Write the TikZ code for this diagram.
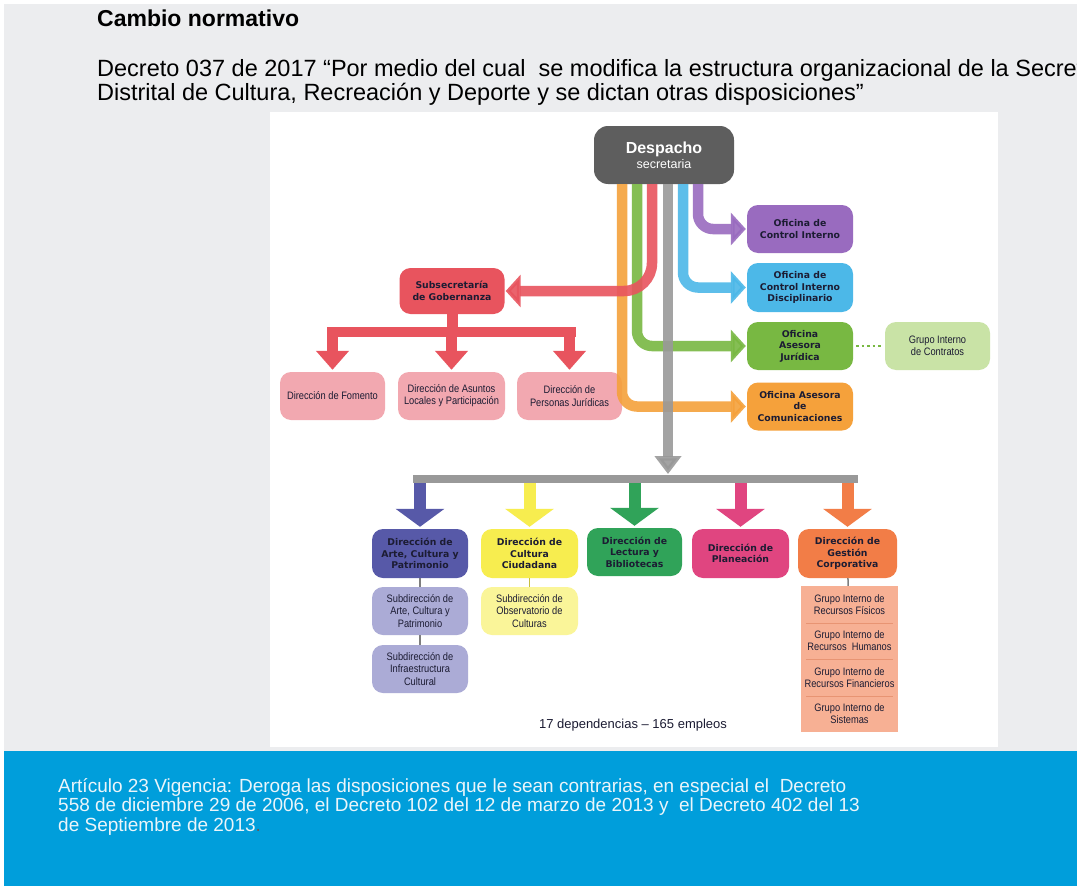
\documentclass[tikz,border=0pt]{standalone}
\usepackage{fontspec}
\setmainfont{Liberation Sans}
\newfontfamily\boxfont{DejaVu Sans}
\newfontfamily\narrowfont{Liberation Sans}[FakeStretch=0.86]
\usetikzlibrary{arrows.meta}
\newcommand{\boxtitle}{\boxfont\bfseries\fontsize{9.3}{11.5}\selectfont}
\newcommand{\boxsmall}{\narrowfont\fontsize{10.8}{12.2}\selectfont}
\definecolor{bggray}{rgb}{0.925, 0.929, 0.937}
\definecolor{despgray}{rgb}{0.37, 0.37, 0.37}
\definecolor{cgray}{rgb}{0.6, 0.6, 0.6}
\definecolor{cpurple}{rgb}{0.60, 0.42, 0.75}
\definecolor{cblue}{rgb}{0.30, 0.72, 0.91}
\definecolor{cgreen}{rgb}{0.47, 0.72, 0.26}
\definecolor{corange}{rgb}{0.96, 0.63, 0.23}
\definecolor{cred}{rgb}{0.91, 0.33, 0.37}
\definecolor{cpink}{rgb}{0.95, 0.66, 0.69}
\definecolor{clgreen}{rgb}{0.79, 0.89, 0.65}
\definecolor{cindigo}{rgb}{0.34, 0.35, 0.66}
\definecolor{cindigolt}{rgb}{0.67, 0.67, 0.84}
\definecolor{cyellow}{rgb}{0.97, 0.93, 0.31}
\definecolor{cyellowlt}{rgb}{0.98, 0.96, 0.6}
\definecolor{cdgreen}{rgb}{0.19, 0.64, 0.35}
\definecolor{cmagenta}{rgb}{0.88, 0.27, 0.5}
\definecolor{cdorange}{rgb}{0.95, 0.49, 0.28}
\definecolor{csalmon}{rgb}{0.97, 0.69, 0.58}
\definecolor{csep}{rgb}{0.91, 0.58, 0.45}
\definecolor{cband}{rgb}{0, 0.62, 0.86}
\definecolor{footwhite}{rgb}{0.92, 0.96, 0.98}
\definecolor{ink}{rgb}{0.11, 0.11, 0.2}
\tikzset{box/.style = {rounded corners=11pt, align=center, text=ink, inner sep=0pt}}
\tikzset{titlebox/.style = {box, font=\boxtitle}}
\tikzset{smallbox/.style = {box, font=\boxsmall}}
\tikzset{plain/.style = {anchor=base west, align=left, inner sep=0pt}}
\tikzset{stripe/.style = {line width=10.5pt, opacity=0.9, rounded corners=15pt,
    -{Triangle[width=32pt, length=15pt]}, shorten >=1pt}}
\tikzset{downarrow/.style = {line width=12pt, -{Triangle[width=48pt, length=18pt]}, shorten >=2pt}}
\tikzset{redarrow/.style = {line width=11pt, cred, -{Triangle[width=32pt, length=19pt]}, shorten >=2pt}}
\tikzset{link/.style = {line width=1.5pt, despgray!80}}

\begin{document}
\begin{tikzpicture}[x=1pt, y=-1pt]
      \clip (0, 0) rectangle (1077, 886);
      \fill [white] (0, 0) rectangle (1077, 886);
      \fill [bggray] (4, 4) rectangle (1077, 751);
      \fill [white] (270, 112) rectangle (998, 747);
      \fill [cband] (4, 751) rectangle (1077, 886);

      % encabezado (base = ultima linea)
      \node [plain, font=\bfseries\fontsize{23}{24}\selectfont] (titulo) at (97, 27) {Cambio normativo};
      \node [plain, font=\fontsize{23.5}{24}\selectfont] (decreto) at (97, 100)
        {Decreto 037 de 2017 “Por medio del cual \ se modifica la estructura organizacional de la Secretaría\\
         Distrital de Cultura, Recreación y Deporte y se dictan otras disposiciones”};

      \node [box, fill=despgray, text=white, minimum width=140pt, minimum height=58pt, rounded corners=14pt] (despacho) at (664, 155)
        {\rule{0pt}{6pt}{\bfseries\fontsize{16}{17}\selectfont Despacho}\\[2pt]{\fontsize{12.5}{14}\selectfont secretaria}};

      % oficinas
      \node [titlebox, fill=cpurple, minimum width=106pt, minimum height=48pt] (ofci) at (800, 229) {Oficina de\\Control Interno};
      \node [titlebox, fill=cblue, minimum width=106pt, minimum height=49pt] (ofcid) at (800, 287.5) {Oficina de\\Control Interno\\Disciplinario};
      \node [titlebox, fill=cgreen, minimum width=106pt, minimum height=48pt] (ofaj) at (800, 346) {Oficina\\Asesora\\Jurídica};
      \node [titlebox, fill=corange, minimum width=106pt, minimum height=48pt] (ofac) at (800, 406.5) {Oficina Asesora\\de\\Comunicaciones};
      \node [smallbox, fill=clgreen, minimum width=105pt, minimum height=48pt] (gcontr) at (937.5, 346) {Grupo Interno\\de Contratos};
      \draw [cgreen, line width=2.5pt, dash pattern=on 2.5pt off 3pt, shorten <=3pt, shorten >=3pt] (ofaj.east) -- (gcontr.west);

      % subsecretaria
      \node [titlebox, fill=cred, minimum width=105pt, minimum height=46pt] (subgob) at (452, 291) {Subsecretaría\\de Gobernanza};
      \node [smallbox, fill=cpink, minimum width=105pt, minimum height=48pt] (dfom) at (332.5, 396) {Dirección de Fomento};
      \node [smallbox, fill=cpink, minimum width=107pt, minimum height=48pt] (dasl) at (451.5, 396) {Dirección de Asuntos\\Locales y Participación};
      \node [smallbox, fill=cpink, minimum width=105pt, minimum height=48pt] (dpj) at (569.5, 396) {Dirección de\\Personas Jurídicas};

      % direcciones
      \node [titlebox, fill=cindigo, minimum width=96pt, minimum height=49pt] (dacp) at (420, 553.5) {Dirección de\\Arte, Cultura y\\Patrimonio};
      \node [titlebox, fill=cyellow, minimum width=97pt, minimum height=49pt] (dcc) at (529.5, 553.5) {Dirección de\\Cultura\\Ciudadana};
      \node [titlebox, fill=cdgreen, minimum width=95pt, minimum height=48pt] (dlb) at (634.5, 552) {Dirección de\\Lectura y\\Bibliotecas};
      \node [titlebox, fill=cmagenta, minimum width=97pt, minimum height=49pt] (dpl) at (740.5, 553.5) {Dirección de\\Planeación};
      \node [titlebox, fill=cdorange, minimum width=99pt, minimum height=49pt] (dgc) at (847.5, 553.5) {Dirección de\\Gestión\\Corporativa};

      \node [smallbox, fill=cindigolt, minimum width=96pt, minimum height=48pt] (sacp) at (420, 611) {Subdirección de\\Arte, Cultura y\\Patrimonio};
      \node [smallbox, fill=cindigolt, minimum width=96pt, minimum height=48pt] (sinf) at (420, 669) {Subdirección de\\Infraestructura\\Cultural};
      \node [smallbox, fill=cyellowlt, minimum width=97pt, minimum height=48pt] (sobs) at (529.5, 611) {Subdirección de\\Observatorio de\\Culturas};

      \node [fill=csalmon, minimum width=97pt, minimum height=146pt, inner sep=0pt] (glist) at (849.5, 659) {};
      \foreach \y in {623, 659, 696}
        \draw [csep, line width=0.8pt] (806, \y) -- (893, \y);
      \node [smallbox] (gfis) at (849.5, 605) {Grupo Interno de\\Recursos Físicos};
      \node [smallbox] (ghum) at (849.5, 641) {Grupo Interno de\\Recursos \ Humanos};
      \node [smallbox] (gfin) at (849.5, 677.5) {Grupo Interno de\\Recursos Financieros};
      \node [smallbox] (gsis) at (849.5, 713.5) {Grupo Interno de\\Sistemas};

      \node [font=\fontsize{13}{15}\selectfont, text=ink] (total) at (633, 725) {17 dependencias – 165 empleos};

      % franjas desde el despacho
      \draw [stripe, corange] ([xshift=-42pt]despacho.south) |- (ofac.west);
      \draw [stripe, cgreen] ([xshift=-27pt]despacho.south) |- (ofaj.west);
      \draw [stripe, cred, rounded corners=28pt] ([xshift=-12pt]despacho.south) |- (subgob.east);
      \draw [stripe, cblue] ([xshift=19pt]despacho.south) |- (ofcid.west);
      \draw [stripe, cpurple] ([xshift=34pt]despacho.south) |- (ofci.west);

      \coordinate (busl) at (413, 479);
      \coordinate (busr) at (858, 479);
      \coordinate (busb) at (413, 483);
      \draw [stripe, cgray, -{Triangle[width=26pt, length=18pt]}, shorten >=5pt] ([xshift=4pt]despacho.south) -- ([xshift=4pt]despacho.south |- busl);
      \draw [cgray, line width=8pt] (busl) -- (busr);

      \draw [downarrow, cindigo] (dacp.north |- busb) -- (dacp.north);
      \draw [downarrow, cyellow] (dcc.north |- busb) -- (dcc.north);
      \draw [downarrow, cdgreen] (dlb.north |- busb) -- (dlb.north);
      \draw [downarrow, cmagenta] (dpl.north |- busb) -- (dpl.north);
      \draw [downarrow, cdorange] (dgc.north |- busb) -- (dgc.north);

      % arbol de la subsecretaria
      \coordinate (gbus) at (452, 332);
      \coordinate (gbusl) at (327, 332);
      \coordinate (gbusr) at (576, 332);
      \draw [cred, line width=11pt] (subgob.south) -- (subgob.south |- gbus);
      \draw [cred, line width=10pt] (gbusl) -- (gbusr);
      \draw [redarrow] (dfom.north |- gbus) -- (dfom.north);
      \draw [redarrow] (dasl.north |- gbus) -- (dasl.north);
      \draw [redarrow] (dpj.north |- gbus) -- (dpj.north);

      \draw [link] (dacp) -- (sacp);
      \draw [link] (sacp) -- (sinf);
      \draw [link, cyellow!80!black] (dcc) -- (sobs);
      \draw [link] (dgc) -- (glist);

      % franja inferior (base = ultima linea)
      \node [plain, text=footwhite, font=\fontsize{19}{19.5}\selectfont] (vigencia) at (58, 831)
        {Artículo 23 Vigencia: Deroga las disposiciones que le sean contrarias, en especial el \ Decreto\\
         558 de diciembre 29 de 2006, el Decreto 102 del 12 de marzo de 2013 y \ el Decreto 402 del 13\\
         de Septiembre de 2013{\color{despgray}.}};
    \end{tikzpicture}
\end{document}
